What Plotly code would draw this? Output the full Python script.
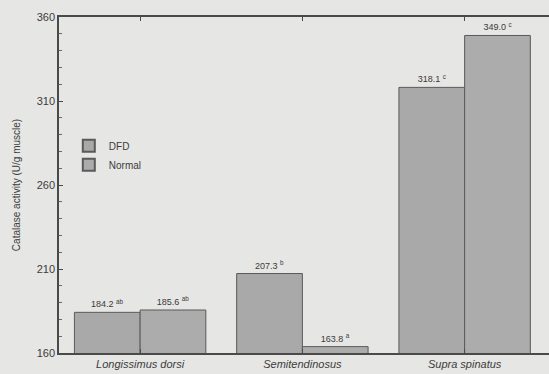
import plotly.graph_objects as go

categories = ["Longissimus dorsi", "Semitendinosus", "Supra spinatus"]
dfd_values = [184.2, 207.3, 318.1]
normal_values = [185.6, 163.8, 349.0]
dfd_letters = ["ab", "b", "c"]
normal_letters = ["ab", "a", "c"]
y_ticks = [160, 210, 260, 310, 360]

cat_labels = [f"<i>{c}</i>" for c in categories]

def labels(vals, letters):
    return [f"{v:.1f} <sup>{l}</sup>" for v, l in zip(vals, letters)]

fig = go.Figure()
fig.add_trace(go.Bar(
    name="DFD", x=cat_labels, y=dfd_values, base=0,
    text=labels(dfd_values, dfd_letters), textposition="outside",
    textfont=dict(size=9, color="#3a3a3a"),
    marker=dict(color="#a9a9a9", line=dict(color="#5a5a5a", width=1),
                pattern=dict(shape=".", size=2, solidity=0.3, fgcolor="#8a8a8a", bgcolor="#acacac")),
    cliponaxis=False,
))
fig.add_trace(go.Bar(
    name="Normal", x=cat_labels, y=normal_values, base=0,
    text=labels(normal_values, normal_letters), textposition="outside",
    textfont=dict(size=9, color="#3a3a3a"),
    marker=dict(color="#ababab", line=dict(color="#5a5a5a", width=1),
                pattern=dict(shape=".", size=2, solidity=0.3, fgcolor="#8c8c8c", bgcolor="#afafaf")),
    cliponaxis=False,
))

fig.update_layout(
    width=549, height=374,
    margin=dict(l=59, r=0, t=17, b=21),
    paper_bgcolor="#e6e6e4", plot_bgcolor="#e6e6e4",
    barmode="group", bargap=0.19, bargroupgap=0,
    font=dict(family="Liberation Sans, Arial", color="#3c3c3c", size=11),
    showlegend=True,
    legend=dict(x=0.02, y=0.66, xanchor="left", yanchor="top",
                bgcolor="rgba(0,0,0,0)", font=dict(size=10, color="#3c3c3c"),
                itemsizing="constant", tracegroupgap=0),
    xaxis=dict(showline=True, linecolor="#4a4a4a", linewidth=1.5, mirror="ticks",
               ticks="inside", ticklen=4, tickcolor="#4a4a4a",
               tickfont=dict(size=11, color="#3c3c3c"), range=[-0.5, 2.52]),
    yaxis=dict(range=[160, 360], tickvals=y_ticks, showgrid=False, zeroline=False,
               showline=True, linecolor="#4a4a4a", linewidth=1.5, mirror=False,
               ticks="inside", ticklen=4, tickcolor="#4a4a4a",
               minor=dict(dtick=10, ticks="inside", ticklen=3, tickcolor="#6a6a6a"),
               tickfont=dict(size=11, color="#3c3c3c"),
               title=dict(text="Catalase activity (U/g muscle)", font=dict(size=10, color="#3c3c3c"), standoff=14)),
)

fig.write_html("out.html")
